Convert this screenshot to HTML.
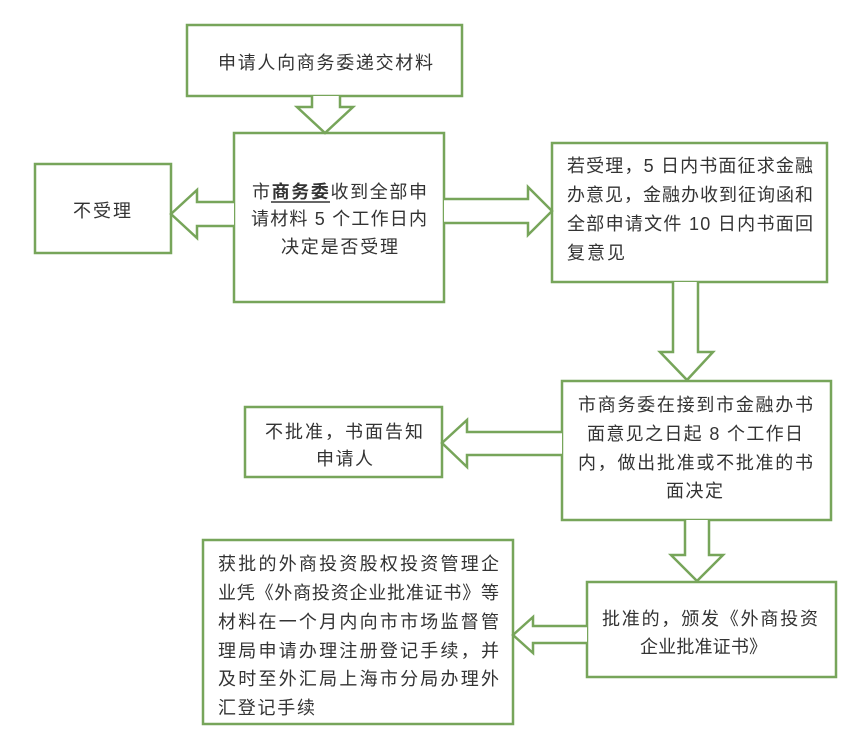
<!DOCTYPE html>
<html>
<head>
<meta charset="utf-8">
<style>
  html,body{margin:0;padding:0;background:#fff;}
  svg{display:block;}
  text{font-family:"Liberation Sans","Noto Sans CJK SC",sans-serif;font-size:18px;fill:#333;}
</style>
</head>
<body>
<svg width="860" height="737" viewBox="0 0 860 737" xmlns="http://www.w3.org/2000/svg">
  <g fill="#fff" stroke="#77a55a" stroke-width="2.5" stroke-linejoin="miter">
    <!-- boxes -->
    <rect x="187" y="25" width="275" height="71"/>
    <rect x="234" y="133" width="210" height="169"/>
    <rect x="35" y="164" width="136" height="89"/>
    <rect x="552" y="143" width="275" height="139"/>
    <rect x="562" y="381" width="269" height="139"/>
    <rect x="245" y="407" width="197" height="70"/>
    <rect x="587" y="582" width="249" height="95"/>
    <rect x="203" y="540" width="310" height="184"/>

    <!-- arrows -->
    <polyline points="312,96 312,107 297,107 325,133 353,107 340,107 340,96"/>
    <polyline points="234,202 197,202 197,190 171,214 197,238 197,226 234,226"/>
    <polyline points="444,199 528,199 528,187 552,211 528,235 528,223 444,223"/>
    <polyline points="673,282 673,352 660,352 687,380 713,352 698,352 698,282"/>
    <polyline points="562,432 467,432 467,420 442,443 467,467 467,455 562,455"/>
    <polyline points="685,520 685,555 671,555 697,581 723,555 709,555 709,520"/>
    <polyline points="587,626 533,626 533,617 513,635 533,653 533,643 587,643"/>
  </g>

  <!-- top box -->
  <text x="218" y="69" textLength="215" lengthAdjust="spacing">申请人向商务委递交材料</text>

  <!-- box2 -->
  <text x="252" y="198" textLength="175" lengthAdjust="spacing">市<tspan font-weight="bold">商务委</tspan>收到全部申</text>
  <line x1="271" y1="202" x2="330" y2="202" stroke="#333" stroke-width="1.5"/>
  <text x="251" y="225" textLength="176" lengthAdjust="spacing">请材料 5 个工作日内</text>
  <text x="281" y="253" textLength="117" lengthAdjust="spacing">决定是否受理</text>

  <!-- 不受理 -->
  <text x="73" y="217" textLength="58" lengthAdjust="spacing">不受理</text>

  <!-- box3 -->
  <text x="567" y="172" textLength="246" lengthAdjust="spacing">若受理，5 日内书面征求金融</text>
  <text x="567" y="201" textLength="246" lengthAdjust="spacing">办意见，金融办收到征询函和</text>
  <text x="567" y="230" textLength="246" lengthAdjust="spacing">全部申请文件 10 日内书面回</text>
  <text x="567" y="259" textLength="58" lengthAdjust="spacing">复意见</text>

  <!-- box4 -->
  <text x="578" y="411" textLength="235" lengthAdjust="spacing">市商务委在接到市金融办书</text>
  <text x="587" y="440" textLength="216" lengthAdjust="spacing">面意见之日起 8 个工作日</text>
  <text x="578" y="469" textLength="235" lengthAdjust="spacing">内，做出批准或不批准的书</text>
  <text x="666" y="497" textLength="57" lengthAdjust="spacing">面决定</text>

  <!-- 不批准 -->
  <text x="265" y="438" textLength="158" lengthAdjust="spacing">不批准，书面告知</text>
  <text x="316" y="465" textLength="57" lengthAdjust="spacing">申请人</text>

  <!-- 批准的 -->
  <text x="602" y="625" textLength="216" lengthAdjust="spacing">批准的，颁发《外商投资</text>
  <text x="640" y="653" textLength="127" lengthAdjust="spacing">企业批准证书》</text>

  <!-- 获批 -->
  <text x="218" y="570" textLength="281" lengthAdjust="spacing">获批的外商投资股权投资管理企</text>
  <text x="218" y="599" textLength="281" lengthAdjust="spacing">业凭《外商投资企业批准证书》等</text>
  <text x="218" y="628" textLength="281" lengthAdjust="spacing">材料在一个月内向市市场监督管</text>
  <text x="218" y="657" textLength="281" lengthAdjust="spacing">理局申请办理注册登记手续，并</text>
  <text x="218" y="685" textLength="281" lengthAdjust="spacing">及时至外汇局上海市分局办理外</text>
  <text x="218" y="714" textLength="97" lengthAdjust="spacing">汇登记手续</text>
</svg>
</body>
</html>
